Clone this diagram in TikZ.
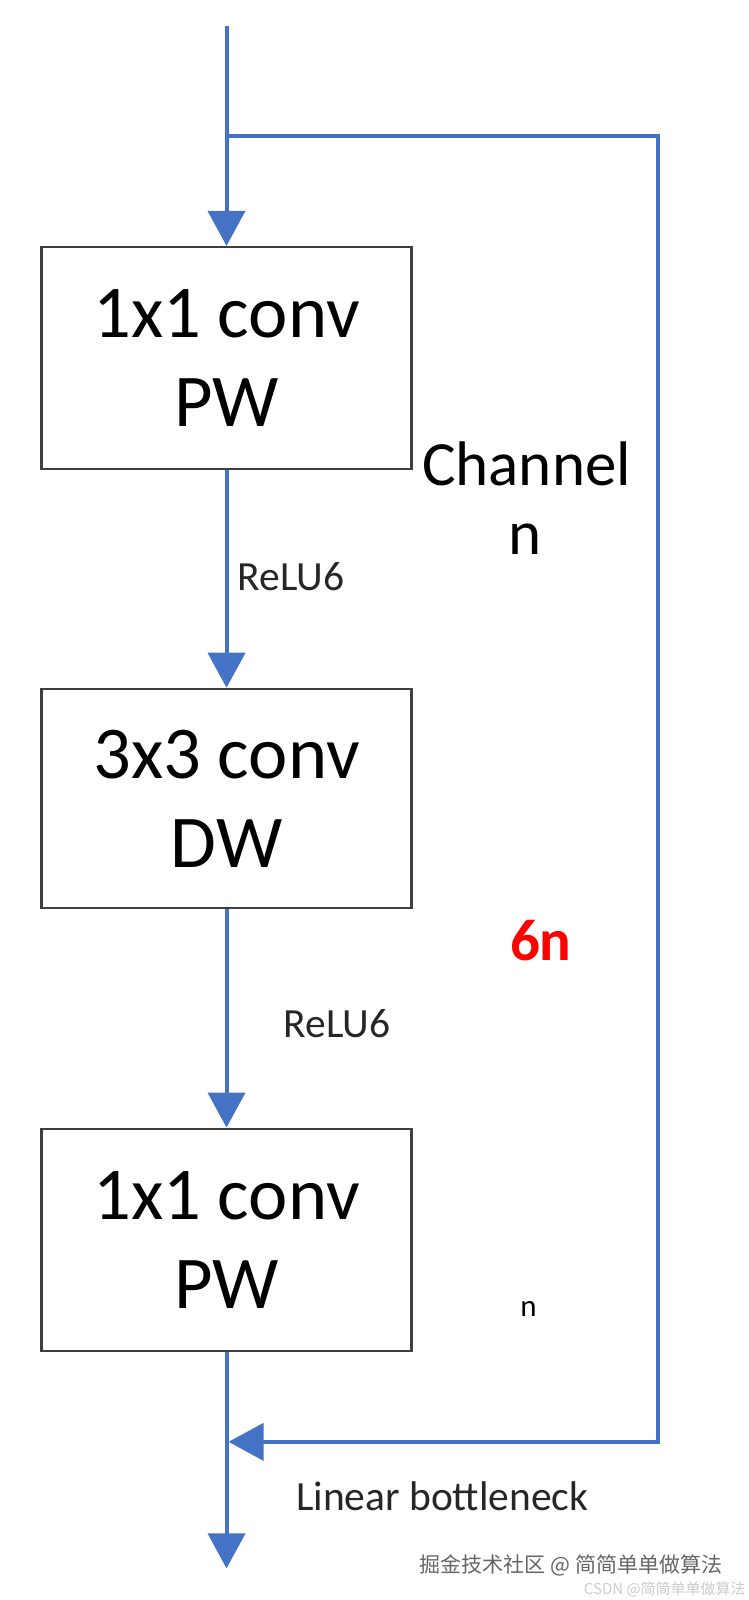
\documentclass[tikz,border=0pt]{standalone}
\usepackage{fontspec}
\setmainfont{Carlito}
\newfontfamily\cjk{Noto Sans CJK SC}
\usetikzlibrary{arrows.meta}
\definecolor{flowblue}{HTML}{4472C4}
\definecolor{boxgray}{HTML}{3F3F3F}
\definecolor{redlbl}{HTML}{FF0000}
\begin{document}
\begin{tikzpicture}[x=1.0204pt,y=-1.0204pt,
  flow/.style={draw=flowblue,line width=4pt,line join=miter,-{Triangle[width=37pt,length=35pt]}},
  flowline/.style={draw=flowblue,line width=4pt,line join=miter},
  convbox/.style={draw=boxgray,line width=2.5pt,fill=white,minimum width=370pt,minimum height=222pt,inner sep=0pt,align=center,font=\fontsize{74.5}{89}\selectfont},
  biglbl/.style={font=\fontsize{63}{75}\selectfont,inner sep=0pt},
  smalllbl/.style={font=\fontsize{41.5}{48}\selectfont,inner sep=0pt,text=black!85},
  ]
\fill[white] (0,0) rectangle (733.04,1568.0);
\useasboundingbox (0,0) rectangle (733.04,1568.0);
\node[convbox] (b1) at (222,351) {1x1 conv\\PW};
\node[convbox,minimum height=219pt] (b2) at (222,782.5) {3x3 conv\\DW};
\node[convbox] (b3) at (222,1215) {1x1 conv\\PW};
\coordinate (top) at (222,25);
\coordinate (split) at (222,133);
\coordinate (tr) at (645,133);
\coordinate (br) at (645,1413);
\coordinate (join) at (224,1413);
\coordinate (bot) at (222,1537);
\draw[flowline] (top) -- (split);
\draw[flow] (split) -- (b1.north);
\draw[flow] (split) -- (tr) -- (br) -- (join);
\draw[flow] (b1.south) -- (b2.north);
\draw[flow] (b2.south) -- (b3.north);
\draw[flow] (b3.south) -- (bot);
\node[biglbl] (ch) at (516,455) {Channel};
\node[biglbl] (n1) at (515,528) {n};
\node[smalllbl,anchor=west] (r1) at (233,565) {ReLU6};
\node[smalllbl,anchor=west] (r2) at (278,1003) {ReLU6};
\node[font=\fontsize{59}{70}\selectfont\bfseries,text=redlbl,inner sep=0pt] (six) at (530,922) {6n};
\node[font=\fontsize{31}{36}\selectfont,inner sep=0pt] (n2) at (518,1283) {n};
\node[smalllbl,anchor=west] (lb) at (290,1466) {Linear bottleneck};
\node[font=\cjk\fontsize{21}{25}\selectfont,text=black!60,anchor=east,inner sep=0pt] (wm) at (708,1534) {掘金技术社区 @ 简简单单做算法};
\node[font=\cjk\fontsize{15}{18}\selectfont,text=black!20,anchor=east,inner sep=0pt] (wm2) at (731,1558) {CSDN @简简单单做算法};
\end{tikzpicture}
\end{document}
